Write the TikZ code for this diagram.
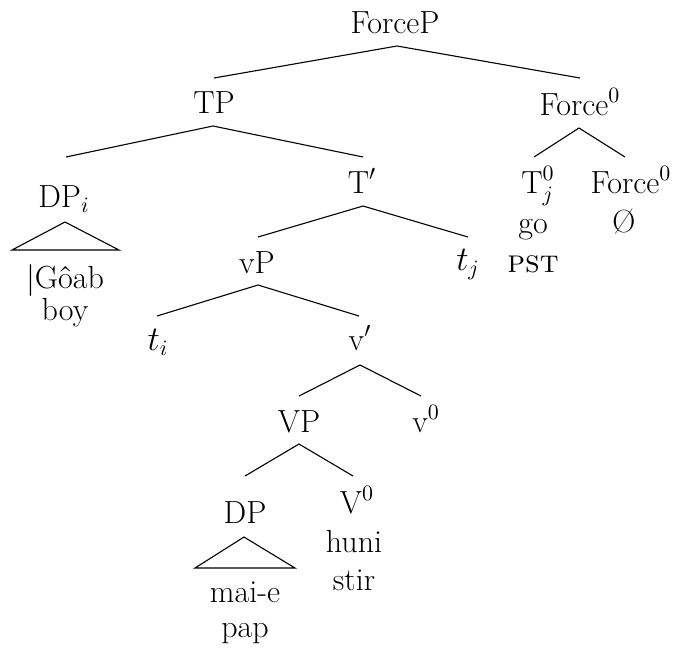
\documentclass[tikz,border=0pt]{standalone}
\usetikzlibrary{calc}
\begin{document}
\begin{tikzpicture}[x=0.5pt,y=-0.5pt,
  lbl/.style={anchor=base,inner sep=0pt,font=\fontsize{16}{19}\selectfont},
  edge/.style={line width=0.55pt,line join=miter}]
\useasboundingbox (0,0) rectangle (673,650);
% nodes
\node[lbl] (ForceP) at (395,33) {ForceP};
\node[lbl] (TP) at (214,113) {TP};
\node[lbl] (Fp) at (580,115) {Force$^0$};
\node[lbl] (DPi) at (64,207) {DP$_i$};
\node[lbl] (Tbar) at (362,193) {T$'$};
\node[lbl] (Tj) at (538,193) {T$^0_j$};
\node[lbl] (go) at (533,233) {go};
\node[lbl] (pst) at (533,272) {\textsc{pst}};
\node[lbl] (Fc) at (631,193) {Force$^0$};
\node[lbl] (null) at (624,232) {Ø};
\node[lbl] (gab) at (65,288) {|Gôab};
\node[lbl] (boy) at (65,320) {boy};
\node[lbl] (vP) at (257,273) {vP};
\node[lbl] (tj) at (468,270) {$t_j$};
\node[lbl] (ti) at (158,350) {$t_i$};
\node[lbl] (vbar) at (360,350) {v$'$};
\node[lbl] (VP) at (299,432) {VP};
\node[lbl] (v0) at (426,432) {v$^0$};
\node[lbl] (DP) at (245,523) {DP};
\node[lbl] (V0) at (357,513) {V$^0$};
\node[lbl] (huni) at (354,552) {huni};
\node[lbl] (stir) at (354,590) {stir};
\node[lbl] (maie) at (245,602) {mai-e};
\node[lbl] (pap) at (245,637) {pap};
% branches
\draw[edge] ($(TP.base)+(0,-35)$) -- ($(ForceP.base)+(2,13)$) -- ($(Fp.base)+(0,-37)$);
\draw[edge] ($(DPi.base)+(2,-50)$) -- ($(TP.base)+(-1,13)$) -- ($(Tbar.base)+(1,-36)$);
\draw[edge] ($(Tj.base)+(-4,-36)$) -- ($(Fp.base)+(-1,13)$) -- ($(Fc.base)+(-6,-36)$);
\draw[edge] ($(vP.base)+(1,-36)$) -- ($(Tbar.base)+(1,13)$) -- ($(tj.base)+(0,-33)$);
\draw[edge] ($(ti.base)+(-1,-34)$) -- ($(vP.base)+(1,12)$) -- ($(vbar.base)+(-1,-34)$);
\draw[edge] ($(VP.base)+(0,-36)$) -- ($(vbar.base)+(0,15)$) -- ($(v0.base)+(-5,-36)$);
\draw[edge] ($(DP.base)+(0,-47)$) -- ($(VP.base)+(0,12)$) -- ($(V0.base)+(-4,-37)$);
% triangles
\draw[edge] ($(DPi.base)+(1,15)$) -- ($(DPi.base)+(-52,43)$) -- ($(DPi.base)+(55,43)$) -- cycle;
\draw[edge] ($(DP.base)+(-1,14)$) -- ($(DP.base)+(-50,45)$) -- ($(DP.base)+(50,45)$) -- cycle;
\end{tikzpicture}
\end{document}
